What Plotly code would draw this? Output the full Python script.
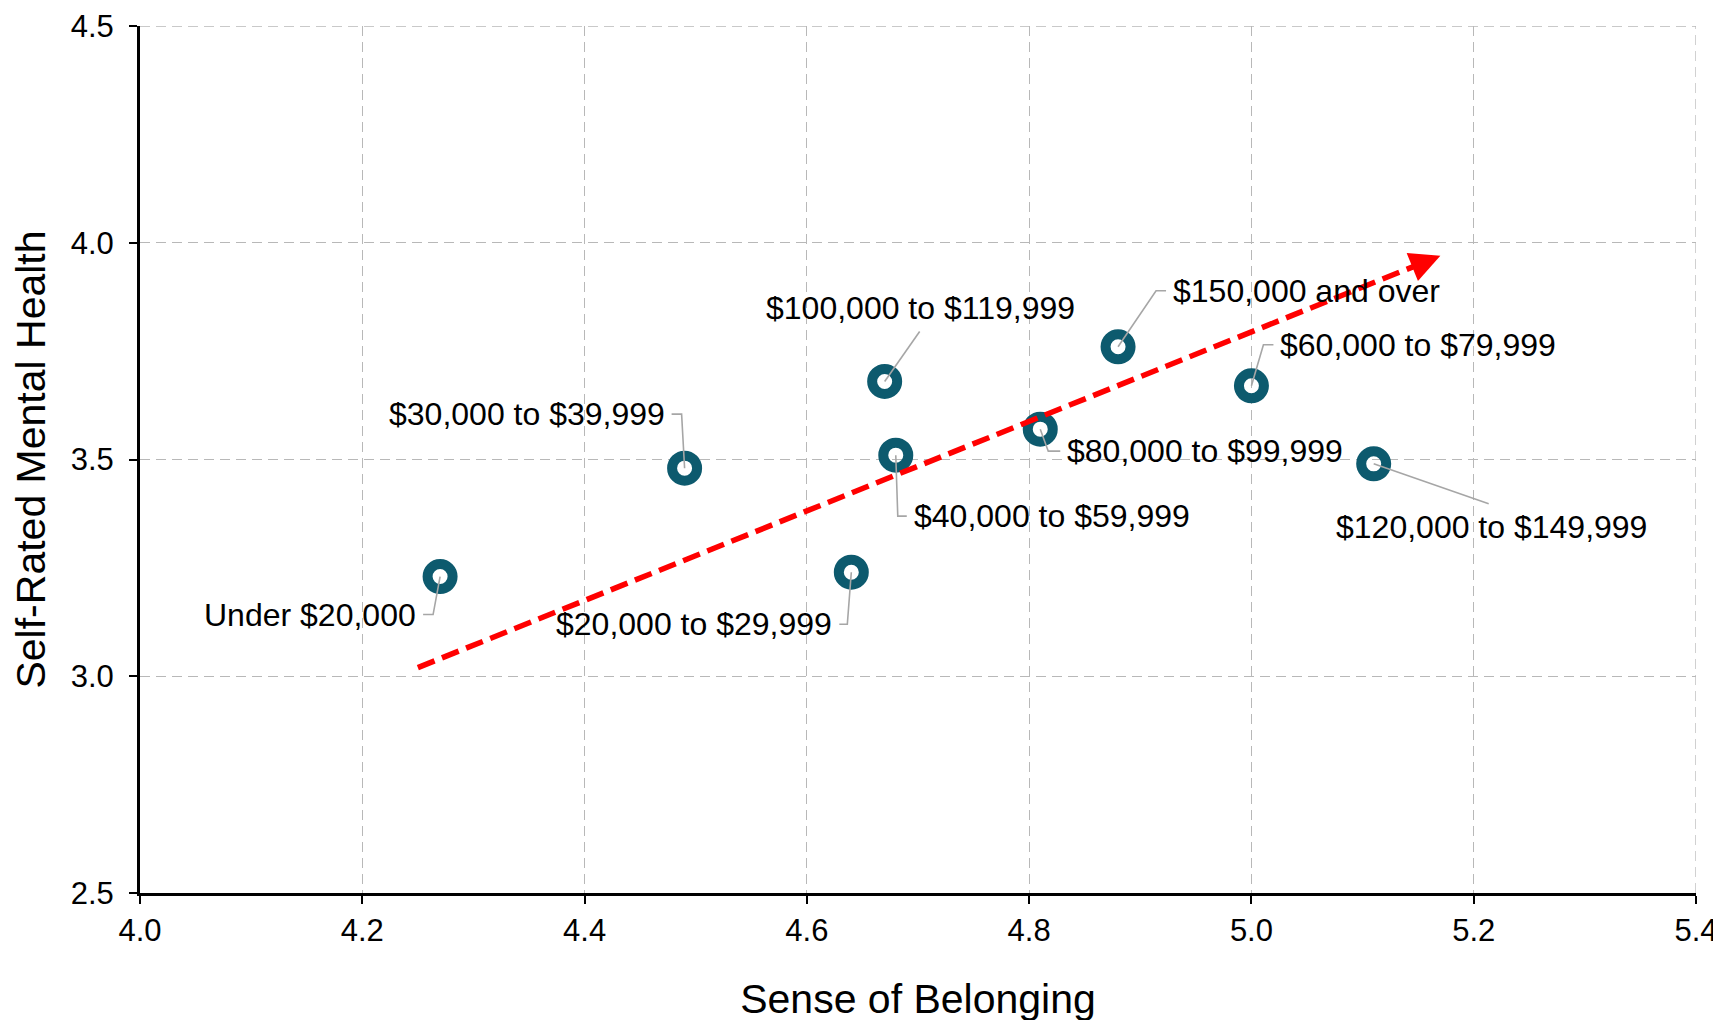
import math
import plotly.graph_objects as go

# ---------------- data ----------------
categories = [
    "Under $20,000",
    "$20,000 to $29,999",
    "$30,000 to $39,999",
    "$40,000 to $59,999",
    "$60,000 to $79,999",
    "$80,000 to $99,999",
    "$100,000 to $119,999",
    "$120,000 to $149,999",
    "$150,000 and over",
]
sense_of_belonging = [4.27, 4.64, 4.49, 4.68, 5.00, 4.81, 4.67, 5.11, 4.88]
self_rated_mental_health = [3.23, 3.24, 3.48, 3.51, 3.67, 3.57, 3.68, 3.49, 3.76]

trend_x = [4.25, 5.17]
trend_y = [3.02, 3.97]

x_tick_vals = [4.0, 4.2, 4.4, 4.6, 4.8, 5.0, 5.2, 5.4]
x_tick_text = ["4.0", "4.2", "4.4", "4.6", "4.8", "5.0", "5.2", "5.4"]
y_tick_vals = [2.5, 3.0, 3.5, 4.0, 4.5]
y_tick_text = ["2.5", "3.0", "3.5", "4.0", "4.5"]

# ---------------- styling / label placement (pixels, y up) ----------------
W, H = 1721, 1020
M = dict(l=132, r=33, t=18, b=135)
X_RANGE = [x_tick_vals[0], x_tick_vals[-1]]
Y_RANGE = [y_tick_vals[0], y_tick_vals[-1]]
TEAL = "#0d5a6e"
LEADER = "#a6a6a6"
GRID = "#b8b8b8"
GRID_DASH = "10px,6px"
FONT = "Liberation Sans, Arial, sans-serif"

label_layout = [
    # leader polyline offsets, text offset, xanchor
    ([(0, 0), (-7, -38), (-17, -38)], (-22, -38), "right"),
    ([(0, 0), (-4, -52), (-12, -52)], (-17, -52), "right"),
    ([(0, 0), (-3, 54), (-13, 54)], (-18, 54), "right"),
    ([(0, 0), (2, -61), (11, -61)], (16, -61), "left"),
    ([(0, 0), (12, 41), (22, 41)], (27, 41), "left"),
    ([(0, 0), (8, -22), (20, -22)], (25, -22), "left"),
    ([(0, 0), (35, 50)], (36, 73), "center"),
    ([(0, 0), (115, -40)], (118, -63), "center"),
    ([(0, 0), (38, 56), (48, 56)], (53, 56), "left"),
]

fig = go.Figure()

fig.add_trace(go.Scatter(
    x=sense_of_belonging, y=self_rated_mental_health, mode="markers",
    text=categories, hoverinfo="text",
    marker=dict(symbol="circle-open", size=25, color=TEAL, line=dict(width=10, color=TEAL)),
))

# trend arrow: dashed line stopping just before the arrowhead
plot_w = W - M["l"] - M["r"]
plot_h = H - M["t"] - M["b"]
px_per_x = plot_w / (X_RANGE[1] - X_RANGE[0])
px_per_y = plot_h / (Y_RANGE[1] - Y_RANGE[0])
dxp = (trend_x[1] - trend_x[0]) * px_per_x
dyp = (trend_y[1] - trend_y[0]) * px_per_y
L = math.hypot(dxp, dyp)
ux, uy = dxp / L, dyp / L
back = 14
line_end_x = trend_x[1] - back * ux / px_per_x
line_end_y = trend_y[1] - back * uy / px_per_y

fig.add_trace(go.Scatter(
    x=[trend_x[0], line_end_x], y=[trend_y[0], line_end_y], mode="lines",
    hoverinfo="skip",
    line=dict(color="#ff0000", width=5.5, dash="18px,8px"),
))

fig.add_annotation(
    x=trend_x[1], y=trend_y[1], xref="x", yref="y",
    ax=-ux * 20, ay=uy * 20, axref="pixel", ayref="pixel",
    showarrow=True, arrowhead=2, arrowsize=1.1, arrowwidth=5.5, arrowcolor="#ff0000",
    text="",
)

shapes = []
# grid lines at the far ends of the axes (top and right)
shapes.append(dict(type="line", xref="x", yref="y", x0=X_RANGE[0], x1=X_RANGE[1],
                   y0=Y_RANGE[1], y1=Y_RANGE[1], layer="below",
                   line=dict(color=GRID, width=1.3, dash=GRID_DASH)))
shapes.append(dict(type="line", xref="x", yref="y", x0=X_RANGE[1], x1=X_RANGE[1],
                   y0=Y_RANGE[0], y1=Y_RANGE[1], layer="below",
                   line=dict(color=GRID, width=1.3, dash=GRID_DASH)))

for cat, xv, yv, (pts, (tx, ty), xa) in zip(categories, sense_of_belonging,
                                             self_rated_mental_health, label_layout):
    path = "M" + " L".join(f"{px},{py}" for px, py in pts)
    shapes.append(dict(
        type="path", xref="x", yref="y", xsizemode="pixel", ysizemode="pixel",
        xanchor=xv, yanchor=yv, path=path, layer="above",
        line=dict(color=LEADER, width=1.6),
    ))
    fig.add_annotation(
        x=xv, y=yv, xref="x", yref="y", xshift=tx, yshift=ty,
        text=cat, showarrow=False, xanchor=xa, yanchor="middle",
        font=dict(family=FONT, size=32, color="black"),
    )

axis_common = dict(
    showline=True, linecolor="black", linewidth=3,
    ticks="outside", ticklen=8, tickwidth=2, tickcolor="black",
    showgrid=True, gridcolor=GRID, gridwidth=1.3, griddash=GRID_DASH,
    zeroline=False, tickfont=dict(family=FONT, size=31, color="black"),
    ticklabeloverflow="allow", automargin=False,
)

fig.update_layout(
    width=W, height=H, margin=M,
    plot_bgcolor="white", paper_bgcolor="white", showlegend=False,
    font=dict(family=FONT, color="black"),
    shapes=shapes,
    xaxis=dict(range=X_RANGE, tickvals=x_tick_vals, ticktext=x_tick_text,
               ticklabelstandoff=0,
               title=dict(text="Sense of Belonging", font=dict(family=FONT, size=41), standoff=38),
               **axis_common),
    yaxis=dict(range=Y_RANGE, tickvals=y_tick_vals, ticktext=y_tick_text,
               ticklabelstandoff=9,
               title=dict(text="Self-Rated Mental Health", font=dict(family=FONT, size=41), standoff=26),
               **axis_common),
)

fig.write_html("out.html")
